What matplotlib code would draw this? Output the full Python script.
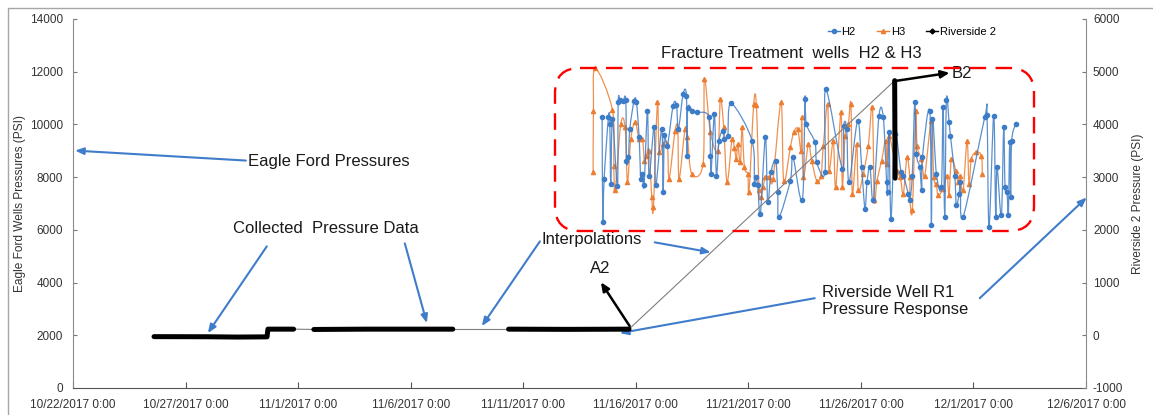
import matplotlib
matplotlib.use('Agg')
import matplotlib.pyplot as plt
import matplotlib.dates as mdates
import matplotlib.ticker as mticker
from matplotlib.path import Path
from matplotlib.patches import PathPatch, FancyBboxPatch, Rectangle
from matplotlib.lines import Line2D
from datetime import datetime
import numpy as np

plt.rcParams['font.family'] = ['Liberation Sans', 'DejaVu Sans']
plt.rcParams['axes.unicode_minus'] = False

# H2 / H3 treatment pressures (PSI), time in days from 11/16/2017 0:00
h2_days = [-1.495, -1.465, -1.406, -1.214, -1.154, -1.11, -1.036, -0.814, -0.784, -0.696,
           -0.562, -0.444, -0.414, -0.326, -0.266, -0.074, 0.030, 0.148, 0.222, 0.296,
           0.37, 0.518, 0.592, 0.814, 0.888, 1.154, 1.214, 1.273, 1.406, 1.658,
           1.806, 1.894, 2.102, 2.25, 2.279, 2.309, 2.516, 2.708,
           3.241, 3.315, 3.345, 3.493, 3.581, 3.7, 3.877, 3.937, 4.085, 4.233,
           5.165, 5.269, 5.328, 5.417, 5.535, 5.757, 5.861, 6.009, 6.216, 6.305,
           6.364, 6.867, 6.985,
           7.40, 7.518, 7.577, 7.962, 8.036, 8.406, 8.436, 9.176, 9.235, 9.368,
           9.472, 9.856, 10.034, 10.182, 10.271, 10.404, 10.552, 10.804, 10.996, 11.144,
           11.188, 11.248, 11.336, 11.514, 11.78, 11.884, 12.106,
           12.17, 12.284, 12.392, 12.466, 12.614, 12.703, 12.732, 13.058, 13.132, 13.176,
           13.354, 13.576, 13.65, 13.724, 13.798, 13.916, 13.976, 14.168, 14.242, 14.36,
           14.42, 14.538, 15.5, 15.604, 15.692, 15.9, 15.988, 16.048, 16.24, 16.344,
           16.403, 16.492, 16.551, 16.61, 16.654, 16.699, 16.876]
h2_psi = [10293, 6295, 7934, 10267, 10015, 7745, 10204, 7644, 10835, 10923,
          10898, 10923, 8628, 8754, 9826, 10898, 10835, 9511, 7934, 8124,
          7682, 10519, 8061, 9889, 7682, 9826, 7430, 9612, 9195, 10709,
          10747, 9826, 11150, 11087, 8817, 10620, 10519, 10456,
          10293, 8817, 8124, 10393, 8061, 9385, 9763, 9448, 9574, 10797,
          9385, 7745, 7997, 7682, 6611, 9511, 7052, 8187, 8628, 7430,
          6484, 7871, 8754,
          7115, 10961, 10015, 9322, 8565, 8187, 11339, 8313, 9952, 9826,
          7808, 10141, 8376, 6800, 7808, 8376, 7115, 10330, 10267, 7808,
          7430, 9700, 6421, 9637, 8187, 8061, 7367,
          7115, 8061, 10835, 8880, 8376, 7493, 8754, 10519, 6169, 10204,
          8124, 7619, 10646, 6484, 10923, 10078, 9574, 8061, 6926, 7367,
          7808, 6484, 10267, 10368, 6106, 10330, 6484, 8376, 6547, 9889,
          7619, 7430, 6547, 9322, 7241, 9385, 10015]

h3_days = [-1.894, -1.88, -1.806, -1.036, -0.977, -0.918, -0.666, -0.474, -0.37, -0.222,
           -0.030, 0.148, 0.296, 0.385, 0.474, 0.592, 0.71, 0.784, 0.962, 1.036,
           1.214, 1.406, 1.48, 1.746, 1.865, 1.924, 2.19, 2.294, 2.486,
           2.989, 3.049, 3.315, 3.641, 3.759, 3.907, 4.055, 4.277, 4.381, 4.469,
           4.529, 4.647, 4.721, 4.825, 4.973, 5.032, 5.239, 5.357, 5.476, 5.565,
           5.653, 5.757, 5.92, 6.097, 6.453, 6.571, 6.867, 7.015, 7.193, 7.341,
           7.37, 7.444, 7.666, 7.814, 8.036, 8.228, 8.332, 8.524, 8.584, 8.776,
           8.88, 9.116, 9.176, 9.294, 9.442, 9.56, 9.62, 9.812, 9.886, 10.108,
           10.33, 10.508, 10.596, 10.715, 10.922, 11.1, 11.159, 11.248, 11.588, 11.751,
           11.884, 12.047, 12.17, 12.18, 12.284,
           12.436, 12.496, 12.688, 12.836, 13.132, 13.236, 13.354, 13.428, 13.65, 13.828,
           13.916, 14.02, 14.212, 14.316, 14.39, 14.538, 14.716, 14.804, 14.908, 15.13,
           15.352, 15.396]
h3_psi = [8187, 10520, 12134, 10545, 8439, 7493, 10015, 9889, 7808, 9448,
          10078, 9448, 9448, 8628, 8817, 9006, 7241, 6863, 10835, 8943,
          9258, 9258, 7934, 9763, 9826, 7934, 9826, 9511, 8124,
          8502, 11717, 9700, 9006, 10961, 9889, 7808, 9448, 9107, 8691,
          9258, 8565, 9889, 8376, 8124, 7430, 10772, 10747, 7493, 7241,
          7619, 7997, 7997, 7934, 10835, 7846, 9132, 9700, 9826, 9006,
          10267, 7997, 9258, 8628, 7871, 8061, 9195, 10772, 8250, 9385,
          7619, 10456, 7619, 9574, 10015, 10772, 7367, 9258, 7493, 8124,
          9195, 10646, 7115, 7871, 8628, 9385, 8502, 9574, 8250, 7997,
          7367, 8754, 7997, 7178, 6737,
          10519, 9195, 8691, 8061, 10141, 7997, 7745, 7304, 7556, 8061,
          7304, 8691, 8250, 7808, 8061, 7493, 9385, 7745, 8691, 8943,
          8817, 8124]

# Riverside 2 recorded pieces, days from 10/22/2017 0:00, PSI on right axis
rs_seg_days = [[3.60, 5.90, 7.30, 8.62, 8.66, 9.80],
               [10.70, 13.00, 16.87],
               [19.35, 22.00, 24.70],
               [36.50, 36.52]]
rs_seg_psi = [[-26, -28, -34, -30, 116, 116],
              [110, 116, 116],
              [116, 112, 116],
              [4830, 2980]]

x_start = mdates.date2num(datetime(2017, 10, 22))
h_ref = mdates.date2num(datetime(2017, 11, 16))

BLUE = '#3D7CC6'
ORANGE = '#ED7D31'
ARROW_BLUE = '#3F7DCB'


def smooth_path(x, y):
    # Catmull-Rom style bezier through the points, like a smoothed spreadsheet line
    p = np.column_stack([x, y])
    n = len(p)
    verts = [p[0]]
    codes = [Path.MOVETO]
    for i in range(n - 1):
        p0 = p[i - 1] if i > 0 else p[i]
        p1 = p[i]
        p2 = p[i + 1]
        p3 = p[i + 2] if i + 2 < n else p[i + 1]
        verts += [p1 + (p2 - p0) / 6.0, p2 - (p3 - p1) / 6.0, p2]
        codes += [Path.CURVE4] * 3
    return Path(verts, codes)


fig = plt.figure(figsize=(11.53, 4.15), dpi=100)
ax = fig.add_axes([0.0633, 0.0651, 0.8786, 0.8892])
ax2 = ax.twinx()

for days, psi, col, mk, z in [(h3_days, h3_psi, ORANGE, '^', 2), (h2_days, h2_psi, BLUE, 'o', 3)]:
    tx = h_ref + np.array(days)
    ax.add_patch(PathPatch(smooth_path(tx, np.array(psi, float)), fill=False,
                           edgecolor=col, lw=0.9, alpha=0.85, zorder=z))
    ax.plot(tx, psi, ls='none', marker=mk, ms=3, color=col, zorder=z)

# thin links between the recorded pieces
for a, b, va, vb in zip(rs_seg_days[:-1], rs_seg_days[1:], rs_seg_psi[:-1], rs_seg_psi[1:]):
    ax2.plot([x_start + a[-1], x_start + b[0]], [va[-1], vb[0]], color='#7f7f7f', lw=0.8, zorder=4)
for d, v in zip(rs_seg_days, rs_seg_psi):
    ax2.plot(x_start + np.array(d), v, color='black', lw=3.6, solid_capstyle='round', zorder=5)

ax.set_xlim(x_start, x_start + 45)
ax.set_ylim(0, 14000)
ax2.set_ylim(-1000, 6000)
ax.set_xticks(x_start + np.arange(0, 46, 5))
ax.set_yticks(np.arange(0, 14001, 2000))
ax2.set_yticks(np.arange(-1000, 6001, 1000))


def date_label(v, pos):
    d = mdates.num2date(v)
    return f"{d.month}/{d.day}/{d.year} 0:00"


ax.xaxis.set_major_formatter(mticker.FuncFormatter(date_label))
ax.tick_params(axis='x', direction='in', length=4, pad=8, labelsize=8.5,
               labelcolor='#333333', color='#555555')
ax.tick_params(axis='y', direction='in', length=3, pad=7, labelsize=8.5,
               labelcolor='#333333', color='#777777')
ax2.tick_params(axis='y', direction='in', length=3, pad=5, labelsize=8.5,
                labelcolor='#333333', color='#777777')

for s in ['top', 'right']:
    ax.spines[s].set_visible(False)
for s in ['top', 'left', 'bottom']:
    ax2.spines[s].set_visible(False)
ax.spines['left'].set_color('#8c8c8c')
ax.spines['bottom'].set_color('#555555')
ax2.spines['right'].set_color('#8c8c8c')

ax.set_ylabel('Eagle Ford Wells Pressures (PSI)', fontsize=8.6, color='#333333', labelpad=3)
ax2.set_ylabel('Riverside 2 Pressure (PSI)', fontsize=8.6, color='#333333', labelpad=6)

handles = [Line2D([], [], color=BLUE, marker='o', ms=3, lw=1),
           Line2D([], [], color=ORANGE, marker='^', ms=3, lw=1),
           Line2D([], [], color='black', marker='D', ms=2.5, lw=1)]
ax2.legend(handles, ['H2', 'H3', 'Riverside 2'], loc='center', bbox_to_anchor=(0.828, 0.965),
           ncol=3, frameon=False, fontsize=8, handlelength=1.1, handletextpad=0.15,
           columnspacing=1.9)

# callouts (left-axis data units)
def d2x(day):
    return x_start + day


blue_arrow = dict(arrowstyle='-|>,head_length=0.5,head_width=0.2', color=ARROW_BLUE,
                  lw=1.5, shrinkA=0, shrinkB=0)
black_arrow = dict(arrowstyle='-|>,head_length=0.5,head_width=0.22', color='black',
                   lw=1.8, shrinkA=0, shrinkB=0)

for head, tail in [((0.09, 9006), (7.68, 8628)),
                   ((5.99, 2081), (8.61, 5373)),
                   ((15.72, 2460), (14.74, 5487)),
                   ((18.16, 2346), (20.74, 5562)),
                   ((28.33, 5146), (25.84, 5525)),
                   ((24.29, 2081), (32.95, 3406)),
                   ((45.03, 7227), (40.28, 3406))]:
    ax.annotate('', xy=(d2x(head[0]), head[1]), xytext=(d2x(tail[0]), tail[1]),
                arrowprops=blue_arrow, annotation_clip=False, zorder=6)

ax.annotate('', xy=(d2x(23.45), 4011), xytext=(d2x(24.73), 2346),
            arrowprops=black_arrow, annotation_clip=False, zorder=6)
ax.annotate('', xy=(d2x(38.94), 11957), xytext=(d2x(36.59), 11655),
            arrowprops=black_arrow, annotation_clip=False, zorder=6)

txt = dict(fontsize=12, color='#1a1a1a', va='center', ha='left', zorder=7)
ax.text(d2x(7.77), 8590, 'Eagle Ford Pressures', **txt)
ax.text(d2x(7.10), 6054, 'Collected  Pressure Data', **txt)
ax.text(d2x(20.83), 5638, 'Interpolations', **txt)
ax.text(d2x(22.96), 4541, 'A2', **txt)
ax.text(d2x(39.03), 11920, 'B2', **txt)
ax.text(d2x(33.26), 3292, 'Riverside Well R1\nPressure Response', linespacing=1.15, **txt)
ax.text(d2x(31.93), 12676, 'Fracture Treatment  wells  H2 & H3', fontsize=12,
        color='#1a1a1a', va='center', ha='center')

# overlay in pixel units for the rounded dashed frame and the outer border
ov = fig.add_axes([0, 0, 1, 1])
ov.set_xlim(0, 1153)
ov.set_ylim(415, 0)
ov.axis('off')
r = 25
ov.add_patch(FancyBboxPatch((555 + r, 68 + r), 479 - 2 * r, 163 - 2 * r,
                            boxstyle=f'round,pad={r}', fill=False, edgecolor='#FF0000',
                            lw=1.7, linestyle=(0, (7, 4))))
ov.add_patch(Rectangle((8, 8), 1160, 420, fill=False, edgecolor='#a6a6a6', lw=1))

fig.savefig('out.png', dpi=100)
